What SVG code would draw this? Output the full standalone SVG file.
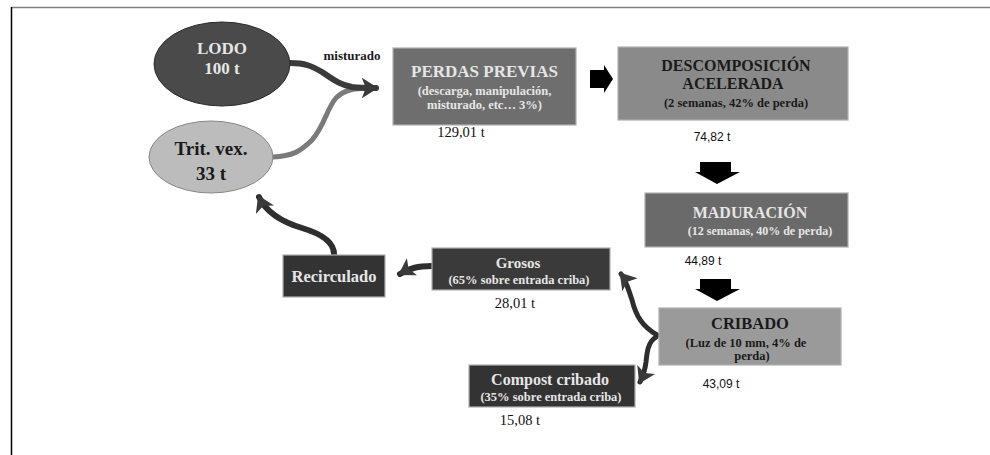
<svg xmlns="http://www.w3.org/2000/svg" width="990" height="455" viewBox="0 0 990 455">
<defs>
<marker id="ahDark" markerUnits="userSpaceOnUse" markerWidth="20" markerHeight="24" refX="14" refY="10" orient="auto">
<path d="M0,0 L16,10 L0,20 L4,10 Z" fill="#3a3a3a"/>
</marker>
<marker id="ahGray" markerUnits="userSpaceOnUse" markerWidth="20" markerHeight="24" refX="14" refY="10" orient="auto">
<path d="M0,0 L16,10 L0,20 L4,10 Z" fill="#707070"/>
</marker>
</defs>
<style>
.t{font-family:"Liberation Serif","Times New Roman",serif;font-weight:bold;text-anchor:middle}
.n{font-family:"Liberation Serif","Times New Roman",serif;font-size:14.5px;text-anchor:middle;fill:#111}
.ns{font-family:"Liberation Sans",Arial,sans-serif;font-size:12px;text-anchor:middle;fill:#111}
.lt{fill:#e6e6e6}
.dk{fill:#1a1a1a}
.box{stroke:#b0b0b0;stroke-width:1.2}
.con{fill:none;stroke-linecap:round;stroke-linejoin:round}
.blk{fill:#000}
</style>
<rect x="0" y="0" width="990" height="455" fill="#fff"/>
<line x1="11" y1="7.5" x2="990" y2="7.5" stroke="#808080" stroke-width="1.5"/>
<line x1="11.5" y1="7" x2="11.5" y2="455" stroke="#000" stroke-width="1.5"/>

<g id="connectors">
<path class="con" d="M273,157 C292,156 300,152 312,140 C325,125 326,110 336,98 C344,90 352,88 376,88" stroke="#7a7a7a" stroke-width="5" marker-end="url(#ahGray)"/>
<path class="con" d="M290,63 C305,63 312,66 322,72 C334,80 340,85 352,87 C360,88 366,88 376,88" stroke="#3a3a3a" stroke-width="6" marker-end="url(#ahDark)"/>
<path class="con" d="M334,254 C334,242 322,234 302,228 C282,222 266,212 259,197" stroke="#2e2e2e" stroke-width="6" marker-end="url(#ahDark)"/>
<path class="con" d="M432,266 C418,266 410,268 400,274" stroke="#2e2e2e" stroke-width="6" marker-end="url(#ahDark)"/>
<path class="con" d="M657,335 C642,326 636,316 632,300 C628,288 626,280 621,274" stroke="#2e2e2e" stroke-width="5" marker-end="url(#ahDark)"/>
<path class="con" d="M656,337 C648,342 647,352 646,362 C645,370 643,376 640,382" stroke="#2e2e2e" stroke-width="5" marker-end="url(#ahDark)"/>
<polygon class="blk" points="590,70 604,70 604,65 613,79 604,93 604,88 590,88"/>
<polygon class="blk" points="700,162 731,162 731,172 740,172 717,184 695,172 700,172"/>
<polygon class="blk" points="700,279 731,279 731,289 740,289 717,301 695,289 700,289"/>
</g>

<g id="lodo">
<ellipse cx="222" cy="64" rx="68" ry="42" fill="#4a4a4a" stroke="#2a2a2a" stroke-width="1"/>
<text class="t lt" x="222" y="54" font-size="17" font-weight="normal">LODO</text>
<text class="t lt" x="222" y="74" font-size="17" font-weight="normal">100 t</text>
</g>

<g id="misturado">
<text class="t dk" x="352" y="60" font-size="13">misturado</text>
</g>

<g id="trit">
<ellipse cx="211" cy="157" rx="62" ry="36" fill="#bcbcbc" stroke="#888" stroke-width="1"/>
<text class="t dk" x="211" y="155" font-size="19" font-weight="normal">Trit. vex.</text>
<text class="t dk" x="211" y="180" font-size="19" font-weight="normal">33 t</text>
</g>

<g id="perdas">
<rect class="box" x="393" y="48" width="183" height="77" fill="#6e6e6e"/>
<text class="t lt" x="484.5" y="77" font-size="17" font-weight="normal">PERDAS PREVIAS</text>
<text class="t lt" x="484.5" y="95" font-size="12.5">(descarga, manipulación,</text>
<text class="t lt" x="484.5" y="109" font-size="12.5">misturado, etc… 3%)</text>
<text class="n" x="461" y="137">129,01 t</text>
</g>

<g id="descomposicion">
<rect class="box" x="618" y="47" width="230" height="73" fill="#8a8a8a"/>
<text class="t dk" x="736" y="71" font-size="16">DESCOMPOSICIÓN</text>
<text class="t dk" x="733" y="89" font-size="16">ACELERADA</text>
<text class="t dk" x="736" y="107" font-size="12.5">(2 semanas, 42% de perda)</text>
<text class="ns" x="712" y="141">74,82 t</text>
</g>

<g id="maduracion">
<rect class="box" x="645" y="193" width="203" height="54" fill="#6a6a6a"/>
<text class="t lt" x="750" y="218" font-size="16">MADURACIÓN</text>
<text class="t lt" x="760" y="235" font-size="12">(12 semanas, 40% de perda)</text>
<text class="ns" x="703" y="265">44,89 t</text>
</g>

<g id="cribado">
<rect class="box" x="659" y="308" width="182" height="57" fill="#9a9a9a"/>
<text class="t dk" x="750" y="329" font-size="16.5" font-weight="normal">CRIBADO</text>
<text class="t dk" x="746" y="347" font-size="12.5">(Luz de 10 mm,  4% de</text>
<text class="t dk" x="752" y="360" font-size="12.5">perda)</text>
<text class="ns" x="721" y="388">43,09 t</text>
</g>

<g id="grosos">
<rect class="box" x="432" y="248" width="178" height="42" fill="#3a3a3a"/>
<text class="t lt" x="518" y="268" font-size="15">Grosos</text>
<text class="t lt" x="519" y="284" font-size="12.5">(65% sobre entrada criba)</text>
<text class="n" x="515" y="308">28,01 t</text>
</g>

<g id="recirculado">
<rect class="box" x="283" y="255" width="102" height="42" fill="#333333"/>
<text class="t lt" x="334" y="282" font-size="16.5">Recirculado</text>
</g>

<g id="compost">
<rect class="box" x="469" y="365" width="166" height="42" fill="#333333"/>
<text class="t lt" x="550" y="385" font-size="16" font-weight="normal">Compost cribado</text>
<text class="t lt" x="551" y="401" font-size="12.5">(35% sobre entrada criba)</text>
<text class="n" x="520" y="425">15,08 t</text>
</g>
</svg>
